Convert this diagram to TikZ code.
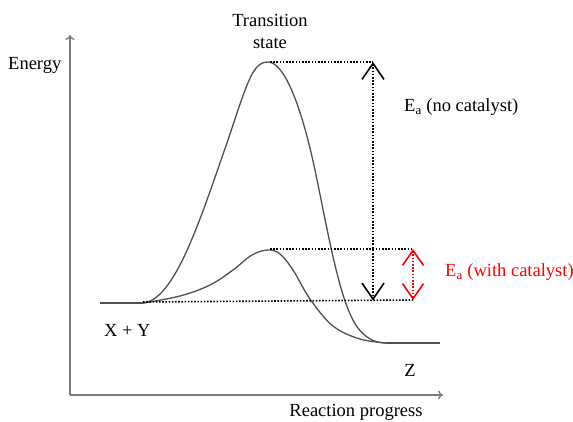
\documentclass[tikz,border=0pt]{standalone}
\usepackage{fontspec}
\setmainfont{Liberation Serif}
\usetikzlibrary{arrows.meta}
\definecolor{curvegray}{HTML}{505050}
\definecolor{axisgray}{HTML}{7A7A7A}
\tikzset{
  lbl/.style={font=\fontsize{18.5}{22}\selectfont, inner sep=0pt},
  axisline/.style={draw=axisgray, line width=1.3pt, -{To[length=5pt,width=9pt]}},
  curve/.style={draw=curvegray, line width=1.3pt},
  dots/.style={line width=1.6pt, dash pattern=on 1.6pt off 1.6pt},
  bigarr/.style={dots, {Straight Barb[length=16pt,width=22pt,line width=1.6pt]}-{Straight Barb[length=16pt,width=22pt,line width=1.6pt]}},
  redarr/.style={dots, red, {Straight Barb[length=15pt,width=21pt,line width=1.6pt]}-{Straight Barb[length=15pt,width=21pt,line width=1.6pt]}}
}
\begin{document}
\begin{tikzpicture}[x=1pt,y=-1pt]
\useasboundingbox (0,0) rectangle (573,421);
% axes
\coordinate (o) at (70,395);
\coordinate (ytop) at (70,35);
\coordinate (xend) at (443,395);
\draw[axisline] (o) -- (ytop);
\draw[axisline] (o) -- (xend);
% key points
\coordinate (r0) at (100,303);
\coordinate (r1) at (143,303);
\coordinate (p0) at (387,343);
\coordinate (p1) at (440,343);
\coordinate (ts) at (270,62);
\coordinate (tc) at (270,249);
\coordinate (a1top) at (373,62);
\coordinate (a1bot) at (373,300.5);
\coordinate (a2top) at (413,249);
\coordinate (a2bot) at (413,300);
\coordinate (b0) at (143,302);
% reactant and product
\draw[curve] (r0) -- (r1);
\draw[curve] (p0) -- (p1);
% big curve
\draw[curve] (r1) .. controls (175,300) and (200,220) .. (228,140)
  .. controls (248,80) and (253,62) .. (268,62)
  .. controls (283,62) and (300,100) .. (315,170)
  .. controls (328,232) and (340,305) .. (358,328)
  .. controls (368,341) and (378,343) .. (p0);
% small curve
\draw[curve] plot[smooth, tension=0.6] coordinates {
 (143,303) (180,296) (210,285) (233,270) (252,255) (268,250) (280,254) (293,270) (310,299) (333,326) (360,339) (387,343)};
% dotted guide lines
\draw[dots] (ts) -- (a1top);
\draw[dots] (tc) -- (a2top);
\draw[dots] (b0) -- (a2bot);
% arrows
\draw[bigarr] (a1top) -- (a1bot);
\draw[redarr] (a2top) -- (a2bot);
% labels
\node[lbl, align=center] (tslbl) at (270,31) {Transition\\state};
\node[lbl, anchor=west] (energy) at (8,65) {Energy};
\node[lbl, anchor=west] (ea1) at (404,107) {E\textsubscript{a} (no catalyst)};
\node[lbl, anchor=west, red] (ea2) at (445,272) {E\textsubscript{a} (with catalyst)};
\node[lbl, anchor=west] (xy) at (104,330) {X + Y};
\node[lbl] (z) at (410,370) {Z};
\node[lbl] (rp) at (356,412) {Reaction progress};
\end{tikzpicture}
\end{document}
